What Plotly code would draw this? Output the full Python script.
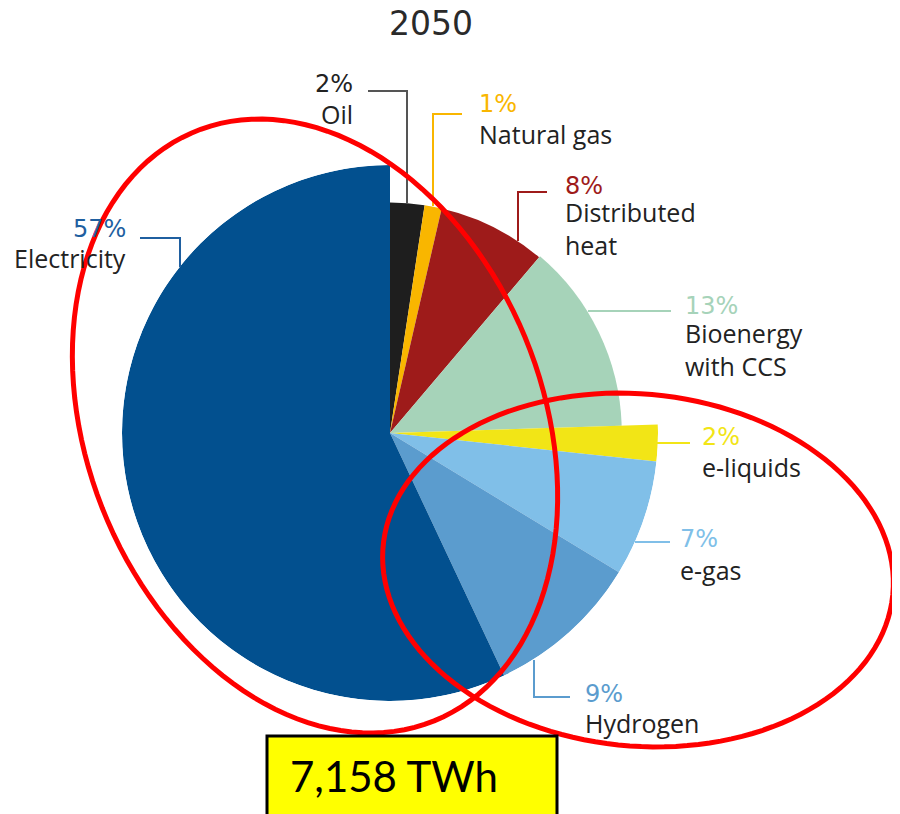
import numpy as np
import plotly.graph_objects as go

# ---------------- data ----------------
categories = ["Oil", "Natural gas", "Distributed heat", "Bioenergy with CCS",
              "e-liquids", "e-gas", "Hydrogen", "Electricity"]
shares = [2.4, 1.2, 7.6, 13.3, 2.2, 7.0, 9.3, 57.0]          # angular share (%)
radius = [0.86, 0.86, 0.86, 0.865, 1.0, 1.0, 1.0, 1.0]       # relative slice radius
pct_labels = ["2%", "1%", "8%", "13%", "2%", "7%", "9%", "57%"]
name_labels = ["Oil", "Natural gas", "Distributed<br>heat", "Bioenergy<br>with CCS",
               "e-liquids", "e-gas", "Hydrogen", "Electricity"]
colors = ["#1E1E1E", "#F9B600", "#9E1B1A", "#A6D3B9",
          "#F2E516", "#80BFE8", "#5B9CCE", "#02508F"]
pct_colors = ["#222222", "#F9B600", "#9E1B1A", "#A6D3B9",
              "#F2E516", "#80BFE8", "#5B9CCE", "#1F5FA0"]
line_colors = ["#555555", "#F9B600", "#9E1B1A", "#A6D3B9",
               "#F2E516", "#80BFE8", "#5B9CCE", "#1F5FA0"]
title_text = "2050"
total_text = "7,158 TWh"

OFF = 8                      # page body margin offset
W, H = 900 - OFF, 814 - OFF
CX, CY, R = 390, 433, 268    # pie centre / radius in page px


def px(x, y):
    return (x - OFF) / W, 1 - (y - OFF) / H


widths = [s * 3.6 for s in shares]
starts = np.concatenate([[0], np.cumsum(widths)[:-1]])
thetas = [s + w / 2 for s, w in zip(starts, widths)]

fig = go.Figure()
fig.add_trace(go.Barpolar(
    r=radius, theta=thetas, width=widths,
    marker=dict(color=colors, line=dict(width=0)),
    hovertext=categories, hoverinfo="text", showlegend=False,
))

dx0, dy0 = px(CX - R, CY + R)
dx1, dy1 = px(CX + R, CY - R)
fig.update_layout(
    width=W, height=H,
    margin=dict(l=0, r=0, t=0, b=0),
    paper_bgcolor="white", plot_bgcolor="white",
    showlegend=False,
    polar=dict(
        domain=dict(x=[dx0, dx1], y=[dy0, dy1]),
        bgcolor="rgba(0,0,0,0)",
        bargap=0,
        radialaxis=dict(range=[0, 1], visible=False, showgrid=False),
        angularaxis=dict(rotation=90, direction="clockwise", visible=False,
                         showgrid=False),
    ),
)

# ---------------- labels (layout positions, page px) ----------------
# (x, y_pct, y_name, anchor)
label_pos = [
    (355, 84, 114, "right"),
    (477, 104, 134, "left"),
    (563, 186, 229, "left"),
    (683, 306, 349, "left"),
    (700, 437, 467, "left"),
    (678, 539, 570, "left"),
    (583, 694, 723, "left"),
    (128, 229, 258, "right"),
]
leaders = [
    [(368, 91), (407, 91), (407, 203)],
    [(462, 114), (433, 114), (433, 206)],
    [(547, 192), (518, 192), (518, 241)],
    [(588, 311), (671, 311)],
    [(657, 443), (690, 443)],
    [(635, 542), (670, 542)],
    [(534, 660), (534, 697), (570, 697)],
    [(140, 238), (180, 238), (180, 267)],
]

annotations = []
shapes = []
for i in range(len(categories)):
    x, yp, yn, anc = label_pos[i]
    ax, ay = px(x, yp)
    annotations.append(dict(x=ax, y=ay, xref="paper", yref="paper", text=pct_labels[i],
                            showarrow=False, xanchor=anc, yanchor="middle",
                            font=dict(family="DejaVu Sans", size=24, color=pct_colors[i])))
    ax, ay = px(x, yn)
    annotations.append(dict(x=ax, y=ay, xref="paper", yref="paper", text=name_labels[i],
                            showarrow=False, xanchor=anc, yanchor="middle", align=anc,
                            font=dict(family="Open Sans", size=25, color="#222222")))
    pts = leaders[i]
    path = "M " + " L ".join(f"{px(a, b)[0]:.5f},{px(a, b)[1]:.5f}" for a, b in pts)
    shapes.append(dict(type="path", path=path, xref="paper", yref="paper",
                       line=dict(color=line_colors[i], width=2), layer="above"))

tx, ty = px(431, 24)
annotations.append(dict(x=tx, y=ty, xref="paper", yref="paper", text=title_text,
                        showarrow=False, xanchor="center", yanchor="middle",
                        font=dict(family="DejaVu Sans", size=33, color="#2A2A2A")))


# ---------------- red highlight ellipses ----------------
def ellipse_path(cx, cy, a, b, rot_deg, n=140):
    t = np.linspace(0, 2 * np.pi, n)
    th = np.radians(rot_deg)
    xs = cx + a * np.cos(t) * np.cos(th) - b * np.sin(t) * np.sin(th)
    ys = cy + a * np.cos(t) * np.sin(th) + b * np.sin(t) * np.cos(th)
    pts = [px(x, y) for x, y in zip(xs, ys)]
    return "M " + " L ".join(f"{p[0]:.5f},{p[1]:.5f}" for p in pts) + " Z"


# rotation measured in screen coords (y down) from +x axis
shapes.append(dict(type="path", path=ellipse_path(315, 426, 318, 228, 68),
                   xref="paper", yref="paper", line=dict(color="#FF0000", width=5), layer="above"))
shapes.append(dict(type="path", path=ellipse_path(638, 570, 256, 176, 5.5),
                   xref="paper", yref="paper", line=dict(color="#FF0000", width=5), layer="above"))

# ---------------- total box ----------------
bx0, by0 = px(267, 736)
bx1, _ = px(557, 736)
shapes.append(dict(type="rect", xref="paper", yref="paper", x0=bx0, x1=bx1, y0=-0.05, y1=by0,
                   fillcolor="#FFFF00", line=dict(color="black", width=3), layer="above"))
tx, ty = px(288, 776)
annotations.append(dict(x=tx, y=ty, xref="paper", yref="paper", text=total_text,
                        showarrow=False, xanchor="left", yanchor="middle",
                        font=dict(family="Lato", size=42, color="black")))

fig.update_layout(annotations=annotations, shapes=shapes)
fig.write_html("out.html")
